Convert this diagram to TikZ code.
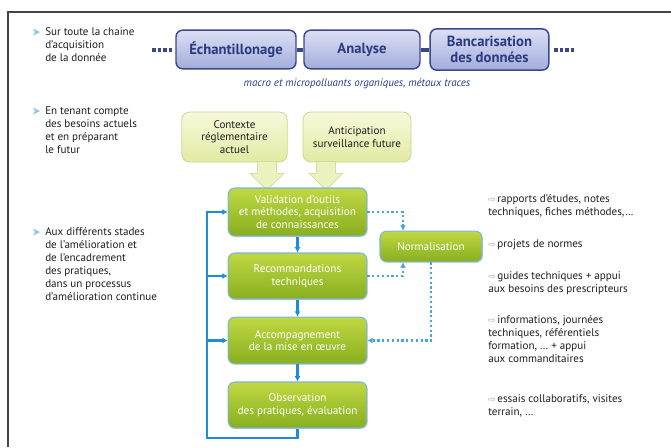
\documentclass[tikz,border=0pt]{standalone}
\usepackage{fontspec}
\setmainfont{PT Sans}
\newfontfamily\symbfont{DejaVu Sans}
\usepackage{tikz}
\usetikzlibrary{shapes.arrows, arrows.meta, calc, shadows}
\definecolor{frame}{HTML}{454545}
\definecolor{chaintop}{HTML}{DCE0F4}
\definecolor{chainbot}{HTML}{A3ACDB}
\definecolor{chaindraw}{HTML}{3A4889}
\definecolor{chaintext}{HTML}{2B3A80}
\definecolor{limetop}{HTML}{BFD943}
\definecolor{limebot}{HTML}{88AE1F}
\definecolor{limedraw}{HTML}{7DB5DA}
\definecolor{sky}{HTML}{1C8DD6}
\definecolor{yeltop}{HTML}{F7F9DC}
\definecolor{yelbot}{HTML}{E2EAA3}
\definecolor{yeldraw}{HTML}{CCD58C}
\definecolor{bulletc}{HTML}{8CC4EC}
\definecolor{hint}{HTML}{9B9BD6}
\definecolor{ink}{HTML}{1E1E1E}

\tikzset{
  chainbox/.style={draw=chaindraw, line width=1.1pt, rounded corners=5pt,
    top color=chaintop, bottom color=chainbot, text=chaintext,
    font=\bfseries\fontsize{11}{12}\selectfont, align=center, inner sep=0pt},
  inputbox/.style={draw=yeldraw, line width=0.6pt, rounded corners=6pt,
    top color=yeltop, bottom color=yelbot, text=ink,
    font=\fontsize{8.3}{9.5}\selectfont, align=center, inner sep=0pt},
  stepbox/.style={draw=limedraw, line width=0.8pt, rounded corners=5pt,
    top color=limetop, bottom color=limebot, text=white,
    font=\fontsize{8.4}{9.4}\selectfont, align=center, inner sep=0pt,
    drop shadow={opacity=0.25, shadow xshift=0.8pt, shadow yshift=-1pt}},
  fatarrow/.style={single arrow, shape border rotate=270, draw=yeldraw,
    fill=yeltop!50!yelbot, minimum height=14pt, inner sep=7pt,
    single arrow head extend=5.5pt},
  feed/.style={sky, line width=1.7pt, -{Latex[length=4pt,width=4.5pt]}},
  dotlink/.style={sky!80, line width=1.6pt, dotted, -{Latex[length=4pt,width=4.5pt]}},
  sidetext/.style={anchor=west, align=left, text=ink, font=\fontsize{8.3}{9.75}\selectfont, inner sep=0pt},
}
\newcommand{\hintarrow}{{\symbfont\color{hint}\fontsize{6.5}{6.5}\selectfont ⇨}}

\begin{document}
\begin{tikzpicture}[x=0.75pt, y=-0.75pt]
  \useasboundingbox (0,0) rectangle (671,447);
  % frame
  \draw[frame, line width=1.1pt] (8,447) -- (8,12) -- (671,12);

  % left texts with bullets
  \node[sidetext] (txtchain) at (45,45) {Sur toute la chaine\\d’acquisition\\de la donnée};
  \node[sidetext] (txtneeds) at (45,130.5) {En tenant compte\\des besoins actuels\\et en préparant\\le futur};
  \node[sidetext] (txtstages) at (45,264.5) {Aux différents stades\\de l’amélioration et\\de l’encadrement\\des pratiques,\\dans un processus\\d’amélioration continue};
  \foreach \y in {32,111,232}{
    \fill[bulletc] (33,\y-3.5) -- (40,\y) -- (33,\y+3.5) -- (35,\y) -- cycle;
  }

  % acquisition chain
  \node[chainbox, minimum width=90pt, minimum height=29pt] (sampling) at (236,49.5) {Échantillonage};
  \node[chainbox, minimum width=87pt, minimum height=29pt] (analysis) at (362,49.5) {Analyse};
  \node[chainbox, minimum width=89pt, minimum height=31pt] (banking) at (489.5,49.5) {Bancarisation\\des données};
  \draw[chaindraw, line width=3pt] (sampling) -- (analysis);
  \draw[chaindraw, line width=3pt] (analysis) -- (banking);
  \foreach \x in {152,157.5,163,168.5}{
    \fill[chaindraw] (\x,48) rectangle ++(3.6,3.6);
  }
  \foreach \x in {554,559.5,565,570.5}{
    \fill[chaindraw] (\x,48) rectangle ++(3.6,3.6);
  }
  \node[text=chaintext, font=\itshape\fontsize{8.2}{9.6}\selectfont] (scope) at (357,84) {macro et micropolluants organiques, métaux traces};

  % inputs
  \node[inputbox, minimum width=79pt, minimum height=37.5pt] (context) at (234.5,137) {Contexte\\réglementaire\\actuel};
  \node[inputbox, minimum width=81pt, minimum height=37.5pt] (future) at (357,137) {Anticipation\\surveillance future};
  \node[fatarrow] (pushA) at (267,171) {};
  \node[fatarrow] (pushB) at (326,171) {};

  % improvement loop
  \node[stepbox, minimum width=104pt, minimum height=36pt] (valid) at (297.5,212) {Validation d’outils\\et méthodes, acquisition\\de connaissances};
  \node[stepbox, minimum width=104pt, minimum height=34.5pt] (reco) at (297.5,276) {Recommandations\\techniques};
  \node[stepbox, minimum width=104pt, minimum height=35pt] (support) at (297.5,340.5) {Accompagnement\\de la mise en œuvre};
  \node[stepbox, minimum width=104pt, minimum height=34.5pt] (observe) at (297.5,405) {Observation\\des pratiques, évaluation};
  \node[stepbox, minimum width=76.5pt, minimum height=23pt] (norm) at (431,246.5) {Normalisation};

  \draw[feed] (valid) -- (reco);
  \draw[feed] (reco) -- (support);
  \draw[feed] (support) -- (observe);
  \coordinate (loopbase) at (207,438);
  \draw[feed] (observe.south) |- (loopbase) |- (valid.west);
  \draw[feed] (loopbase |- reco.west) -- (reco.west);
  \draw[feed] (loopbase |- support.west) -- (support.west);

  \draw[dotlink] (valid.east) -| ($(norm.north)+(-28,0)$);
  \draw[dotlink] (reco.east) -| ($(norm.south)+(-28,0)$);
  \draw[dotlink] (norm.south) |- (support.east);

  % outputs
  \node[sidetext] (outA) at (488,206.5) {\hintarrow\,rapports d’études, notes\\techniques, fiches méthodes,…};
  \node[sidetext] (outB) at (488,245) {\hintarrow\,projets de normes};
  \node[sidetext] (outC) at (488,283) {\hintarrow\,guides techniques + appui\\aux besoins des prescripteurs};
  \node[sidetext] (outD) at (488,339.5) {\hintarrow\,informations, journées\\techniques, référentiels\\formation, …  + appui\\aux commanditaires};
  \node[sidetext] (outE) at (488,405.5) {\hintarrow\,essais collaboratifs, visites\\terrain, …};
\end{tikzpicture}
\end{document}
